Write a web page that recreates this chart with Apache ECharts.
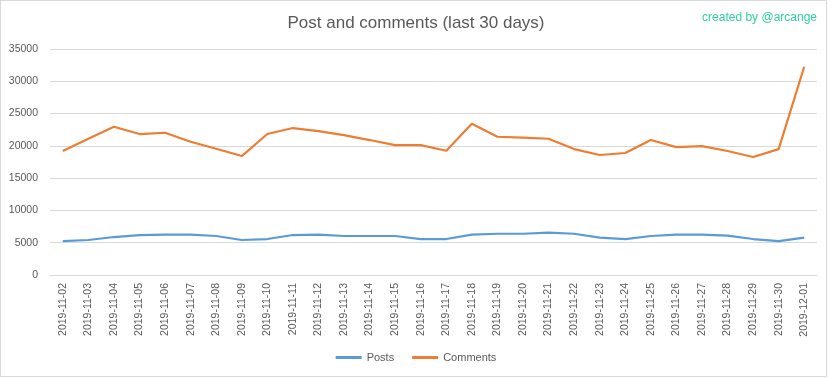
<!DOCTYPE html>
<html><head><meta charset="utf-8">
<script src="https://cdn.jsdelivr.net/npm/echarts@6/dist/echarts.min.js"></script>
<style>
html,body{margin:0;padding:0;background:#fff;}
#frame{position:absolute;left:0;top:0;width:825px;height:375px;border:1px solid #D9D9D9;}
#c{position:absolute;left:0;top:0;width:832px;height:378px;}
</style></head>
<body><div id="frame"></div><div id="c"></div>
<script>
var categories = ["2019-11-02","2019-11-03","2019-11-04","2019-11-05","2019-11-06","2019-11-07","2019-11-08","2019-11-09","2019-11-10","2019-11-11","2019-11-12","2019-11-13","2019-11-14","2019-11-15","2019-11-16","2019-11-17","2019-11-18","2019-11-19","2019-11-20","2019-11-21","2019-11-22","2019-11-23","2019-11-24","2019-11-25","2019-11-26","2019-11-27","2019-11-28","2019-11-29","2019-11-30","2019-12-01"];
var posts = [5260,5420,5880,6190,6240,6240,6040,5420,5570,6190,6240,6040,6040,6040,5570,5570,6240,6390,6390,6550,6390,5780,5570,6040,6240,6240,6090,5570,5260,5780];
var comments = [19200,21100,22950,21830,22030,20640,19550,18420,21830,22760,22290,21670,20900,20120,20120,19240,23420,21410,21260,21100,19500,18580,18890,20900,19810,19970,19200,18270,19500,32250];
var yTicks = {min:0, max:35000, interval:5000};

var chart = echarts.init(document.getElementById('c'), null, {renderer:'canvas'});
var font = "'Liberation Sans', Arial, sans-serif";
chart.setOption({
  animation:false,
  backgroundColor:'transparent',
  title:[{text:'Post and comments (last 30 days)', left:'center', top:10,
          textStyle:{fontFamily:font, fontSize:17, fontWeight:'normal', color:'#595959'}},
         {text:'created by @arcange', right:10, top:7,
          textStyle:{fontFamily:font, fontSize:12, fontWeight:'normal', color:'#2FD0A0'}}],
  grid:{left:50, right:15, top:49, bottom:103, containLabel:false},
  legend:{bottom:10, left:'center', itemWidth:26, itemHeight:3, itemGap:18,
          icon:'rect',
          textStyle:{fontFamily:font, fontSize:11, color:'#595959'},
          data:['Posts','Comments']},
  xAxis:{type:'category', data:categories, boundaryGap:true,
         axisLine:{lineStyle:{color:'#D9D9D9'}}, axisTick:{show:false},
         axisLabel:{rotate:90, fontFamily:font, fontSize:10.5, color:'#595959', margin:8, interval:0}},
  yAxis:{type:'value', min:yTicks.min, max:yTicks.max, interval:yTicks.interval,
         axisLine:{show:false}, axisTick:{show:false},
         splitLine:{lineStyle:{color:'#D9D9D9'}},
         axisLabel:{fontFamily:font, fontSize:10.5, color:'#595959', margin:12,
                    formatter:function(v){return String(v);}}},
  series:[
    {name:'Posts', type:'line', data:posts, symbol:'none', lineStyle:{width:2.2, color:'#5B9BD5'}, itemStyle:{color:'#5B9BD5'}},
    {name:'Comments', type:'line', data:comments, symbol:'none', lineStyle:{width:2.2, color:'#ED7D31'}, itemStyle:{color:'#ED7D31'}}
  ]
});
</script></body></html>
